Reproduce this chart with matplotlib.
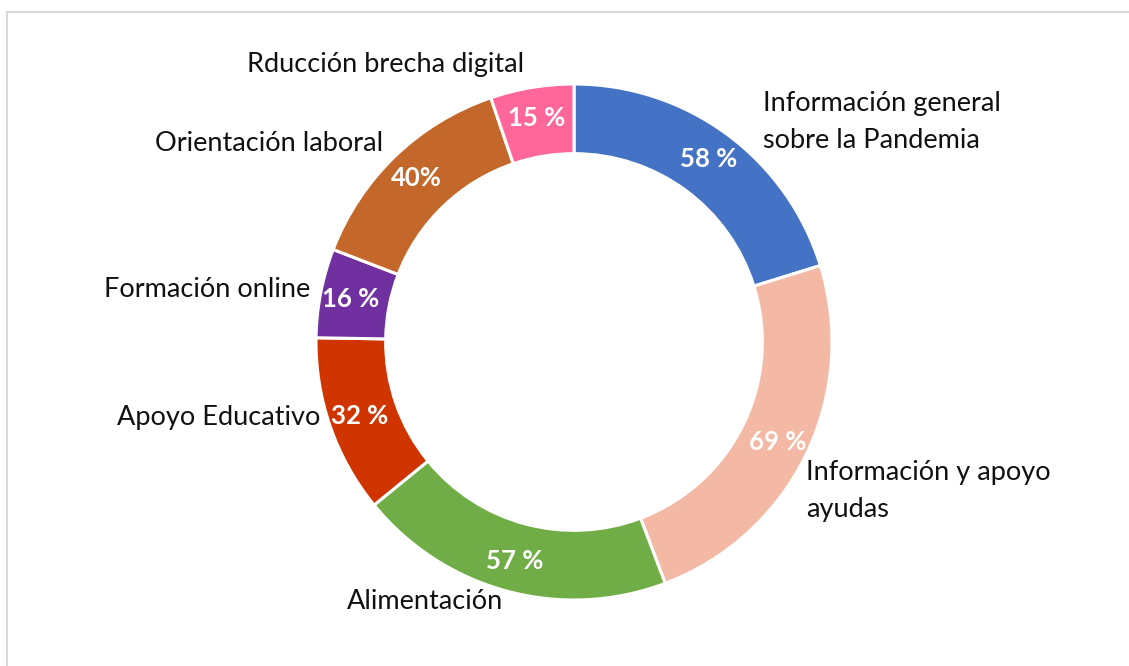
import numpy as np
import matplotlib
matplotlib.use('Agg')
import matplotlib.pyplot as plt
from matplotlib.lines import Line2D

# data (clockwise from 12 o'clock)
categories = ['Información general\nsobre la Pandemia',
              'Información y apoyo\nayudas',
              'Alimentación',
              'Apoyo Educativo',
              'Formación online',
              'Orientación laboral',
              'Rducción brecha digital']
values = [58, 69, 57, 32, 16, 40, 15]
pct_labels = ['58 %', '69 %', '57 %', '32 %', '16 %', '40%', '15 %']

colors = ['#4472C4', '#F4B9A5', '#70AD47', '#D03500', '#7030A0', '#C4672A', '#FF6699']

# outer label placement (units of outer radius) and alignment
lab_pos = [(0.733, 0.851), (0.899, -0.576), (-0.578, -1.004), (-0.984, -0.291),
           (-1.023, 0.205), (-0.740, 0.771), (-0.194, 1.074)]
lab_ha = ['left', 'left', 'center', 'right', 'right', 'right', 'right']

plt.rcParams['font.family'] = ['Lato', 'DejaVu Sans']

W, H = 1129, 666
dpi = 100
fig = plt.figure(figsize=(W / dpi, H / dpi), dpi=dpi)

cx, cy, R = 574, 342, 258   # donut centre / radius in pixels
ax = fig.add_axes([(cx - R) / W, (H - cy - R) / H, 2 * R / W, 2 * R / H])
wedges, _ = ax.pie(values, colors=colors, startangle=90, counterclock=False,
                   radius=1.0, wedgeprops=dict(width=0.27, edgecolor='white', linewidth=2.2))
ax.set_xlim(-1, 1)
ax.set_ylim(-1, 1)
ax.set_aspect('equal')
ax.axis('off')

# percentage labels in the ring
for w, txt in zip(wedges, pct_labels):
    ang = np.deg2rad((w.theta1 + w.theta2) / 2)
    r = 0.88
    ax.text(r * np.cos(ang), r * np.sin(ang), txt, ha='center', va='center',
            color='white', fontsize=18.5, fontweight='bold', clip_on=False)

# category labels
for (x, y), ha, txt in zip(lab_pos, lab_ha, categories):
    ax.text(x, y, txt, ha=ha, va='center', multialignment='left',
            fontsize=19.5, color='#111111', linespacing=1.6, clip_on=False)

# light frame (left and top edges visible)
fig.add_artist(Line2D([7 / W, 7 / W], [0, 1 - 12 / H], color='#D9D9D9', lw=1.5,
                      transform=fig.transFigure))
fig.add_artist(Line2D([7 / W, 1], [1 - 12 / H, 1 - 12 / H], color='#D9D9D9', lw=1.5,
                      transform=fig.transFigure))

fig.savefig('out.png', dpi=dpi, facecolor='white')
